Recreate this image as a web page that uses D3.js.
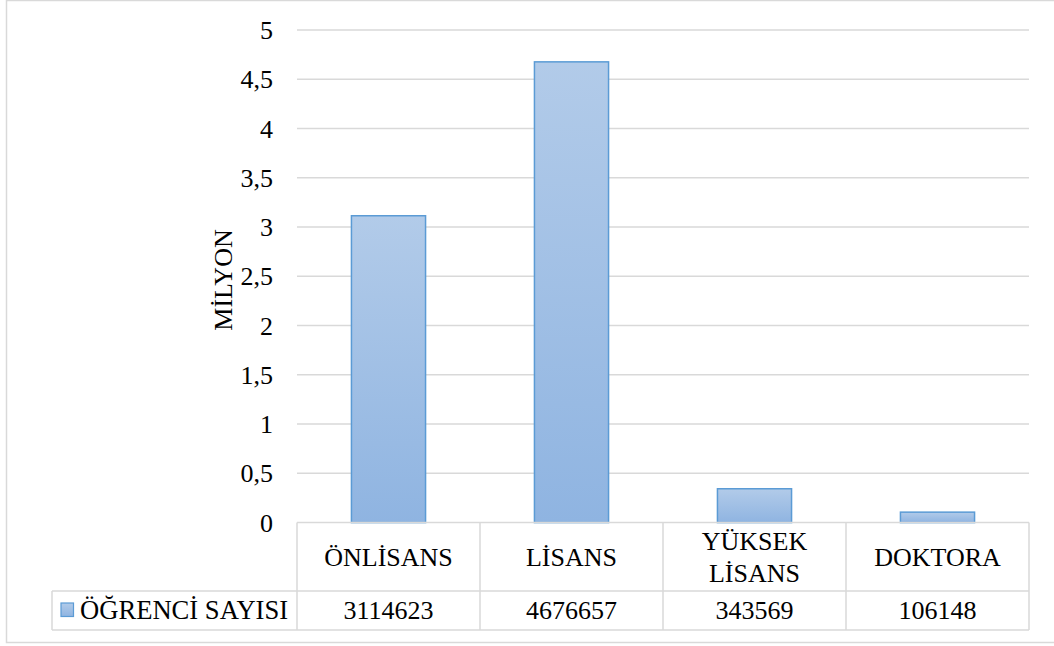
<!DOCTYPE html>
<html>
<head>
<meta charset="utf-8">
<script src="https://cdn.jsdelivr.net/npm/d3@7/dist/d3.min.js"></script>
<style>
  html, body { margin: 0; padding: 0; background: #fff; }
  svg { display: block; }
  #chart text { font-family: "Times New Roman", "Liberation Serif", Tinos, serif !important; }
</style>
</head>
<body>
<svg id="chart" width="1054" height="646"></svg>
<script>
// Öğrenci sayısı by education level
const categories = ["ÖNLİSANS", "LİSANS", "YÜKSEK LİSANS", "DOKTORA"];
const categoryLines = [["ÖNLİSANS"], ["LİSANS"], ["YÜKSEK", "LİSANS"], ["DOKTORA"]];
const studentCounts = [3114623, 4676657, 343569, 106148];
const seriesName = "ÖĞRENCİ SAYISI";
const yTicks = [0, 0.5, 1, 1.5, 2, 2.5, 3, 3.5, 4, 4.5, 5];
const yTitle = "MİLYON";

const svg = d3.select("#chart");
const W = 1054, H = 646;
const plot = { left: 297, right: 1029, top: 30, bottom: 522.6 };
const table = { legendLeft: 52, rowSplit: 591, bottom: 630 };
const gridColor = "#d9d9d9";
const fontSize = 26;

// every label uses the same serif face
function label(sel) {
  return sel.attr("font-family", "Times New Roman, Liberation Serif, serif")
    .attr("font-size", fontSize).attr("fill", "#000");
}

// outer chart frame
svg.append("rect")
  .attr("x", 6.5).attr("y", 0.5)
  .attr("width", W + 10).attr("height", 642)
  .attr("fill", "none").attr("stroke", gridColor).attr("stroke-width", 1.5);

const x = d3.scaleBand().domain(categories).range([plot.left, plot.right]).padding(0);
const y = d3.scaleLinear().domain([0, 5]).range([plot.bottom, plot.top]);

// gradient fill for bars
const defs = svg.append("defs");
const grad = defs.append("linearGradient").attr("id", "barFill")
  .attr("x1", 0).attr("y1", 0).attr("x2", 0).attr("y2", 1);
grad.append("stop").attr("offset", "0%").attr("stop-color", "#b2cbe9");
grad.append("stop").attr("offset", "100%").attr("stop-color", "#8fb4e1");

// horizontal gridlines (value 0 is the table's top edge)
svg.append("g").selectAll("line")
  .data(yTicks.filter(t => t > 0))
  .join("line")
  .attr("x1", plot.left).attr("x2", plot.right)
  .attr("y1", d => y(d)).attr("y2", d => y(d))
  .attr("stroke", gridColor).attr("stroke-width", 1.5);

// y tick labels with comma decimals
const fmt = d => String(d).replace(".", ",");
svg.append("g").selectAll("text")
  .data(yTicks)
  .join("text")
  .attr("x", 273)
  .attr("y", d => y(d) + 9)
  .attr("text-anchor", "end")
  .call(label)
  .text(fmt);

// y axis title
svg.append("text")
  .attr("transform", `translate(232,280) rotate(-90)`)
  .attr("text-anchor", "middle")
  .call(label)
  .text(yTitle);

// bars
const barW = x.bandwidth() * 0.405;
svg.append("g").selectAll("rect")
  .data(categories)
  .join("rect")
  .attr("x", d => x(d) + x.bandwidth() / 2 - barW / 2)
  .attr("width", barW)
  .attr("y", (d, i) => y(studentCounts[i] / 1e6))
  .attr("height", (d, i) => plot.bottom - y(studentCounts[i] / 1e6))
  .attr("fill", "url(#barFill)")
  .attr("stroke", "#5b9bd5").attr("stroke-width", 1.5);

// data table
const tg = svg.append("g").attr("stroke", gridColor).attr("stroke-width", 1.5);
tg.append("line").attr("x1", plot.left).attr("x2", plot.right)
  .attr("y1", plot.bottom).attr("y2", plot.bottom);
tg.append("line").attr("x1", table.legendLeft).attr("x2", plot.right)
  .attr("y1", table.rowSplit).attr("y2", table.rowSplit);
tg.append("line").attr("x1", table.legendLeft).attr("x2", plot.right)
  .attr("y1", table.bottom).attr("y2", table.bottom);
tg.append("line").attr("x1", table.legendLeft).attr("x2", table.legendLeft)
  .attr("y1", table.rowSplit).attr("y2", table.bottom);
const colEdges = categories.map(c => x(c)).concat([plot.right]);
tg.selectAll("line.col").data(colEdges).join("line").attr("class", "col")
  .attr("x1", d => d).attr("x2", d => d)
  .attr("y1", plot.bottom).attr("y2", table.bottom);

// category labels
const catG = svg.append("g");
categories.forEach((c, i) => {
  const lines = categoryLines[i];
  const cx = x(c) + x.bandwidth() / 2;
  const lh = 31.5;
  const base = 566 - (lines.length - 1) * lh / 2;
  lines.forEach((ln, j) => {
    catG.append("text")
      .attr("x", cx).attr("y", base + j * lh)
      .attr("text-anchor", "middle")
      .call(label)
      .text(ln);
  });
});

// values row
svg.append("g").selectAll("text")
  .data(studentCounts)
  .join("text")
  .attr("x", (d, i) => x(categories[i]) + x.bandwidth() / 2)
  .attr("y", 619)
  .attr("text-anchor", "middle")
  .call(label)
  .text(d => d);

// legend key in table
svg.append("rect")
  .attr("x", 61).attr("y", 603).attr("width", 12.5).attr("height", 13.5)
  .attr("fill", "url(#barFill)")
  .attr("stroke", "#5b9bd5").attr("stroke-width", 1.2);
svg.append("text")
  .attr("x", 80).attr("y", 619)
  .call(label)
  .attr("font-size", 26.6)
  .text(seriesName);
</script>
</body>
</html>
